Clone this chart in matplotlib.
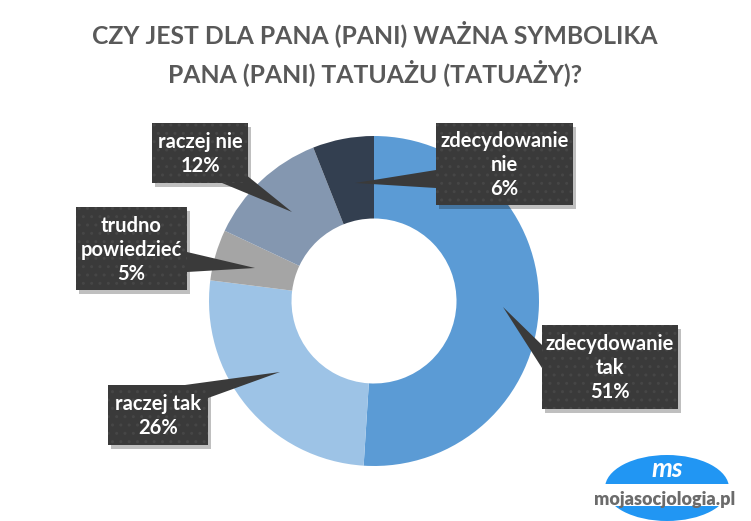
import matplotlib.pyplot as plt
from matplotlib.patches import Rectangle, Polygon, Ellipse

labels = ["zdecydowanie\ntak", "raczej tak", "trudno\npowiedzieć", "raczej nie", "zdecydowanie\nnie"]
values = [51, 26, 5, 12, 6]
colors = ["#5B9BD5", "#9DC3E6", "#A5A5A5", "#8497B0", "#333F50"]

# callout boxes (pixel coords: x0, y0, x1, y1) and pointer tips
boxes = [(542, 325, 678, 409), (108, 385, 208, 445), (76, 207, 187, 290),
         (152, 123, 248, 183), (436, 123, 573, 205)]
tips = [(503, 307), (280, 372), (255, 268), (292, 212), (355, 183)]
bases = [((542, 345), (542, 368)), ((185, 385), (208, 398)), ((187, 252), (187, 272)),
         ((222, 183), (240, 170)), ((436, 170), (436, 188))]

plt.rcParams['font.family'] = ['Lato', 'DejaVu Sans']

W, H = 751, 521
fig = plt.figure(figsize=(W / 100, H / 100), dpi=100)

# donut
cx, cy, r = 374, 301, 165
ax = fig.add_axes([(cx - r) / W, (H - cy - r) / H, 2 * r / W, 2 * r / H])
ax.pie(values, colors=colors, startangle=90, counterclock=False,
       wedgeprops=dict(width=0.5, linewidth=0))
ax.set_xlim(-1, 1)
ax.set_ylim(-1, 1)
ax.set_aspect('equal')
ax.axis('off')

# overlay in pixel space
ov = fig.add_axes([0, 0, 1, 1], facecolor='none')
ov.set_xlim(0, W)
ov.set_ylim(H, 0)
ov.axis('off')

for lab, v, (x0, y0, x1, y1), tip, (b1, b2) in zip(labels, values, boxes, tips, bases):
    # shadow
    ov.add_patch(Rectangle((x0 + 3, y0 + 4), x1 - x0, y1 - y0, color='#000000', alpha=0.25, lw=0))
    ov.add_patch(Polygon([b1, tip, b2], closed=True, facecolor='#3a3a3a', edgecolor='none'))
    ov.add_patch(Rectangle((x0, y0), x1 - x0, y1 - y0, facecolor='#3a3a3a',
                           edgecolor='#464646', hatch='..', lw=0))
    ov.text((x0 + x1) / 2, (y0 + y1) / 2 + 1, f"{lab}\n{v}%", color='white',
            fontsize=14.5, fontweight='bold', ha='center', va='center', linespacing=1.25)

ov.text(375, 53, "CZY JEST DLA PANA (PANI) WAŻNA SYMBOLIKA\nPANA (PANI) TATUAŻU (TATUAŻY)?",
        color='#595959', fontsize=17.8, fontweight='bold', ha='center', va='center',
        linespacing=1.5)

# logo
ov.add_patch(Ellipse((667, 488), 124, 66, color='#2196F3', lw=0))
ov.add_patch(Rectangle((595, 484), 150, 22, color='white', lw=0))
ov.text(667, 469, "ms", color='white', fontsize=19, fontweight='bold',
        fontstyle='italic', ha='center', va='center')
ov.text(665, 500, "mojasocjologia.pl", color='#6b6b6b', fontsize=13,
        fontweight='heavy', ha='center', va='center')

fig.savefig("out.png", dpi=100)
